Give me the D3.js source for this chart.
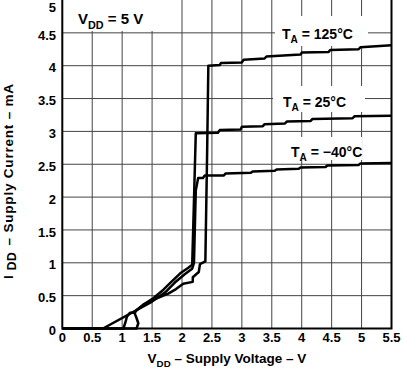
<!DOCTYPE html>
<html>
<head>
<meta charset="utf-8">
<script src="https://cdn.jsdelivr.net/npm/d3@7"></script>
<style>
  body { margin: 0; background: #fff; }
  text { font-family: "Liberation Sans", Arial, Helvetica, sans-serif; font-weight: bold; fill: #000; }
</style>
</head>
<body>
<svg id="chart" width="403" height="369"></svg>
<script>
// tick values and labels
const xTicks = [0, 0.5, 1, 1.5, 2, 2.5, 3, 3.5, 4, 4.5, 5, 5.5];
const xTickLabels = ['0', '0.5', '1', '1.5', '2', '2.5', '3', '3.5', '4', '4.5', '5', '5.5'];
const yTicks = [0, 0.5, 1, 1.5, 2, 2.5, 3, 3.5, 4, 4.5, 5];
const yTickLabels = ['0', '0.5', '1', '1.5', '2', '2.5', '3', '3.5', '4', '4.5', '5'];

// supply current (mA) vs supply voltage (V)
const volts125 = [0, 1.24, 1.27, 1.24, 1.21, 1.23, 1.35, 1.49, 1.63, 1.77, 1.90, 2.02, 2.18, 2.18, 2.28, 2.30, 2.39, 2.42, 2.44, 2.63, 2.65, 3.00, 3.03, 3.38, 3.41, 3.98, 4.00, 4.45, 4.48, 4.95, 4.98, 5.50];
const amps125 = [0, 0, 0.08, 0.16, 0.23, 0.27, 0.36, 0.43, 0.48, 0.53, 0.60, 0.68, 0.71, 0.78, 0.86, 0.98, 1.02, 2.70, 4.00, 4.01, 4.04, 4.05, 4.09, 4.11, 4.14, 4.17, 4.20, 4.21, 4.24, 4.25, 4.28, 4.31];

const volts25 = [0, 1.02, 1.05, 1.08, 1.13, 1.19, 1.35, 1.52, 1.69, 1.80, 1.97, 2.10, 2.17, 2.20, 2.23, 2.60, 2.63, 2.98, 3.00, 3.35, 3.38, 3.72, 3.75, 4.15, 4.18, 4.85, 4.88, 5.50];
const amps25 = [0, 0, 0.08, 0.18, 0.24, 0.24, 0.36, 0.46, 0.59, 0.69, 0.84, 0.92, 0.97, 1.95, 2.97, 2.98, 3.02, 3.03, 3.07, 3.08, 3.11, 3.12, 3.15, 3.16, 3.19, 3.20, 3.23, 3.24];

const voltsM40 = [0, 0.68, 1.50, 1.72, 1.88, 2.05, 2.17, 2.20, 2.23, 2.27, 2.35, 2.38, 2.70, 2.73, 3.15, 3.18, 3.55, 3.58, 3.95, 3.98, 4.40, 4.43, 4.95, 4.98, 5.50];
const ampsM40 = [0, 0, 0.41, 0.55, 0.70, 0.83, 0.91, 1.00, 2.10, 2.29, 2.29, 2.33, 2.33, 2.36, 2.37, 2.39, 2.40, 2.42, 2.43, 2.45, 2.46, 2.48, 2.49, 2.51, 2.52];

const seriesNames = ['125', '25', '\u221240'];

const svg = d3.select('#chart');
const width = 403;
const height = 369;
const margin = { top: 0, right: 11.5, bottom: 40.5, left: 62.3 };

const x = d3.scaleLinear().domain([0, 5.5]).range([margin.left, width - margin.right]);
const y = d3.scaleLinear().domain([0, 5]).range([height - margin.bottom, margin.top]);

// grid
const grid = svg.append('g').attr('stroke', '#444').attr('stroke-width', 1);
grid.selectAll('line.v')
  .data(xTicks.slice(1, -1)).enter()
  .append('line')
  .attr('x1', (d) => x(d)).attr('x2', (d) => x(d))
  .attr('y1', y(0)).attr('y2', y(5));
grid.selectAll('line.h')
  .data(yTicks.slice(1, -1)).enter()
  .append('line')
  .attr('x1', x(0)).attr('x2', x(5.5))
  .attr('y1', (d) => y(d)).attr('y2', (d) => y(d));

// white boxes behind the annotations hide the grid
const boxes = [
  [63, 0, 96, 31],
  [275, 16, 93, 30],
  [273, 86, 92, 26],
  [288, 137, 74, 23],
];
svg.append('g').selectAll('rect')
  .data(boxes).enter()
  .append('rect')
  .attr('x', (d) => d[0]).attr('y', (d) => d[1])
  .attr('width', (d) => d[2]).attr('height', (d) => d[3])
  .attr('fill', '#fff');

// frame: left, bottom, right
svg.append('path')
  .attr('d', `M${x(0)},${y(5)}V${y(0)}H${x(5.5)}V${y(5)}`)
  .attr('fill', 'none')
  .attr('stroke', '#000')
  .attr('stroke-width', 2);

// curves
const line = d3.line().x((d) => x(d[0])).y((d) => y(d[1]));
const curves = [d3.zip(volts125, amps125), d3.zip(volts25, amps25), d3.zip(voltsM40, ampsM40)];
svg.append('g').selectAll('path')
  .data(curves).enter()
  .append('path')
  .attr('d', line)
  .attr('fill', 'none')
  .attr('stroke', '#000')
  .attr('stroke-width', 2.5)
  .attr('stroke-linejoin', 'round');

// tick labels
svg.append('g').selectAll('text')
  .data(xTicks).enter()
  .append('text')
  .attr('x', (d) => x(d))
  .attr('y', 342)
  .attr('text-anchor', 'middle')
  .attr('font-size', 13)
  .text((d, i) => xTickLabels[i]);

svg.append('g').selectAll('text')
  .data(yTicks).enter()
  .append('text')
  .attr('x', 56)
  .attr('y', (d) => Math.max(y(d) + 2, 7))
  .attr('dy', '0.36em')
  .attr('text-anchor', 'end')
  .attr('font-size', 13)
  .text((d, i) => yTickLabels[i]);

// text with a subscript
const subText = (g, main, sub, rest, size) => {
  const t = g.append('text').attr('font-size', size);
  t.append('tspan').text(main);
  t.append('tspan').attr('font-size', size * 0.72).attr('dy', size * 0.3).text(sub);
  t.append('tspan').attr('dy', -size * 0.3).text(rest);
  return t;
};

subText(svg, 'V', 'DD', ' = 5 V', 15).attr('x', 78).attr('y', 24);

const labelPos = [[282, 39], [283, 107], [291, 157]];
seriesNames.forEach((name, i) => {
  subText(svg, 'T', 'A', ` = ${name}\u00B0C`, 14)
    .attr('x', labelPos[i][0]).attr('y', labelPos[i][1]);
});

// axis titles
subText(svg, 'V', 'DD', ' \u2013 Supply Voltage \u2013 V', 13.5)
  .attr('x', x(2.75)).attr('y', 363).attr('text-anchor', 'middle');

const yTitle = svg.append('text')
  .attr('font-size', 13.5)
  .attr('letter-spacing', 0.8)
  .attr('text-anchor', 'middle')
  .attr('transform', 'translate(13,181) rotate(-90)');
yTitle.append('tspan').text('I');
yTitle.append('tspan').attr('dx', 4).attr('dy', 3).attr('font-size', 12).text('DD');
yTitle.append('tspan').attr('dx', 6).attr('dy', -3).text('\u2013 Supply Current \u2013 mA');
</script>
</body>
</html>
